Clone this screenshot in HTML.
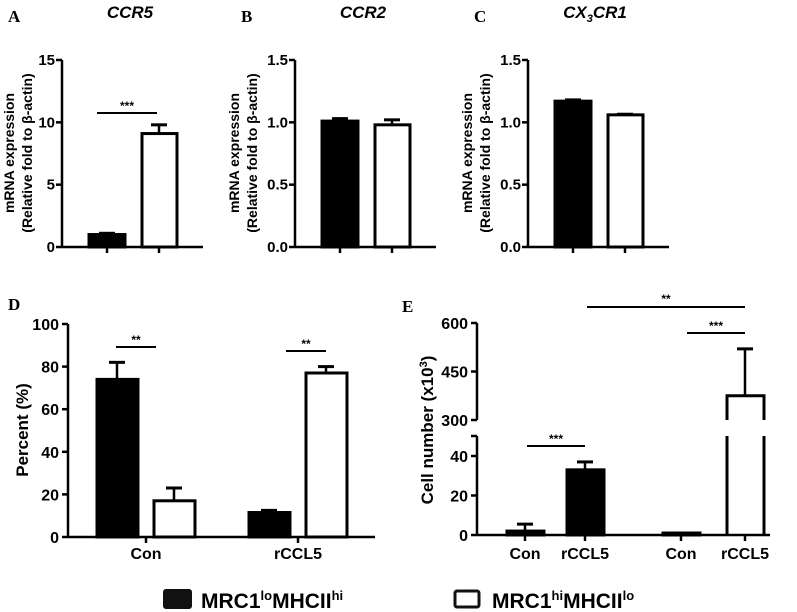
<!DOCTYPE html>
<html><head><meta charset="utf-8"><style>
body{margin:0;background:#fff}
svg{display:block;font-family:"Liberation Sans",Arial,sans-serif;font-weight:bold}
</style></head><body>
<svg id="c" width="797" height="612" viewBox="0 0 797 612" xmlns="http://www.w3.org/2000/svg"></svg>
<script>
const NS="http://www.w3.org/2000/svg";
const svg=document.getElementById('c');
// data
const abcTitles=["CCR5","CCR2","CX3CR1"];
const abcMax=[15,1.5,1.5];
const abcTicks=[["0","5","10","15"],["0.0","0.5","1.0","1.5"],["0.0","0.5","1.0","1.5"]];
const abcBlack=[1.0,1.01,1.17];
const abcBlackErr=[1.1,1.03,1.18];
const abcWhite=[9.1,0.98,1.06];
const abcWhiteErr=[9.8,1.02,1.065];
const dCategories=["Con","rCCL5"];
const dBlack=[74,11.5];
const dBlackErr=[82,12.5];
const dWhite=[17,77];
const dWhiteErr=[23,80];
const dTicks=[0,20,40,60,80,100];
const eCategories=["Con","rCCL5","Con","rCCL5"];
const eValues=[2,33,1,375];
const eErr=[5.5,37,1,520];
const eLowTicks=[0,20,40];
const eHighTicks=[300,450,600];

function el(tag,attrs,name,inter,parent){
  const e=document.createElementNS(NS,tag);
  for(const k in attrs)e.setAttribute(k,attrs[k]);
  
  
  (parent||svg).appendChild(e);return e;
}
function txt(x,y,s,size,name,anchor,extra){
  const t=el('text',Object.assign({x:x,y:y,'font-size':size,'text-anchor':anchor||'middle'},extra||{}),name,false);
  t.textContent=s;return t;
}
function line(x1,y1,x2,y2,name,w){return el('line',{x1,y1,x2,y2,stroke:'#000','stroke-width':w||2.5},name,false);}
function bar(x,w,y0,yv,black,name){
  return el('rect',{x:x,y:Math.min(yv,y0),width:w,height:Math.abs(y0-yv),fill:black?'#000':'#fff',stroke:'#000','stroke-width':3},name,false);
}
function errbar(cx,yv,ye,name){line(cx,yv,cx,ye,name,2.5);line(cx-8,ye,cx+8,ye,name+'-cap',3);}

// panels A-C
const axX=[62,295,528];
const titleOff=[[-48,-30],[-56,-38],[-56,-38]];
const y0=247,yTop=60;
abcTitles.forEach((t,i)=>{
  const ax=axX[i],sy=v=>y0-(v/abcMax[i])*(y0-yTop);
  const lbl=["A","B","C"][i];
  txt(ax-54,22,lbl,17,'panel-label-'+lbl.toLowerCase(),'start',{'font-family':'Liberation Serif,serif'});
  if(i==2){const tt=txt(ax+67,18,'',17,'panel-title-c','middle',{'font-style':'italic'});
    tt.innerHTML='CX<tspan font-size="11" dy="4">3</tspan><tspan dy="-4">CR1</tspan>';}
  else txt(ax+68,18,t,17,'panel-title-'+lbl.toLowerCase(),'middle',{'font-style':'italic'});
  abcTicks[i].forEach((s,k)=>{const v=abcMax[i]*k/3,y=sy(v);
    line(ax-6,y,ax,y,'y-tick');txt(ax-7,y+5,s,15,'y-tick-label','end');});
  line(ax,yTop,ax,y0+1,'y-axis');line(ax,y0,ax+141,y0,'x-axis');
  const bx=ax+27,wx=ax+80;
  bar(bx,36,y0,sy(abcBlack[i]),true,'bar-black');
  errbar(bx+18,sy(abcBlack[i]),sy(abcBlackErr[i]),'error-bar-black');
  bar(wx,35,y0,sy(abcWhite[i]),false,'bar-white');
  errbar(wx+17,sy(abcWhite[i]),sy(abcWhiteErr[i]),'error-bar-white');
  line(bx+18,y0,bx+18,y0+6,'x-tick');line(wx+17,y0,wx+17,y0+6,'x-tick');
  const cy=153,t1=ax+titleOff[i][0],t2=ax+titleOff[i][1];
  txt(t1,cy,'mRNA expression',14,'y-axis-title','middle',{transform:`rotate(-90 ${t1} ${cy})`});
  txt(t2,cy,'(Relative fold to β-actin)',14,'y-axis-title','middle',{transform:`rotate(-90 ${t2} ${cy})`});
});
line(97,113,157,113,'sig-line-a',2);txt(127,110,'***',12,'sig-stars-a');

// panel D
const dx=68,dy0=537,dTop=324,dsy=v=>dy0-v/100*(dy0-dTop);
txt(8,310,'D',17,'panel-label-d','start',{'font-family':'Liberation Serif,serif'});
dTicks.forEach(v=>{const y=dsy(v);line(dx-6,y,dx,y,'y-tick');txt(dx-9,y+6,String(v),16,'y-tick-label','end');});
line(dx,dTop,dx,dy0+1,'y-axis');line(dx,dy0,375,dy0,'x-axis');
const dGroupX=[97,249];
dCategories.forEach((c,i)=>{
  const gx=dGroupX[i];
  bar(gx,41,dy0,dsy(dBlack[i]),true,'bar-black-'+c);
  errbar(gx+20,dsy(dBlack[i]),dsy(dBlackErr[i]),'error-bar-black');
  bar(gx+57,41,dy0,dsy(dWhite[i]),false,'bar-white-'+c);
  errbar(gx+77,dsy(dWhite[i]),dsy(dWhiteErr[i]),'error-bar-white');
  line(gx+49,dy0,gx+49,dy0+6,'x-tick');
  txt(gx+49,559,c,16,'x-tick-label');
});
line(116,347,156,347,'sig-line-d1',2);txt(136,344,'**',12,'sig-stars-d1');
line(286,351,326,351,'sig-line-d2',2);txt(306,348,'**',12,'sig-stars-d2');
txt(28,430,'Percent (%)',17,'y-axis-title','middle',{transform:'rotate(-90 28 430)'});

// panel E
const ex=477,ey0=535,eBreakLo=436,eBreakHi=420;
const esy=v=> v<=50? ey0-v*(ey0-456)/40 : 420-(v-300)*(420-323)/300;
txt(402,312,'E',17,'panel-label-e','start',{'font-family':'Liberation Serif,serif'});
eLowTicks.forEach(v=>{const y=esy(v);line(ex-6,y,ex,y,'y-tick');txt(ex-9,y+6,String(v),16,'y-tick-label','end');});
eHighTicks.forEach(v=>{const y=esy(v);line(ex-6,y,ex,y,'y-tick');txt(ex-9,y+6,String(v),16,'y-tick-label','end');});
line(ex-6,eBreakLo,ex,eBreakLo,'axis-break-cap');
line(ex,323,ex,eBreakHi,'y-axis-upper');line(ex,eBreakLo,ex,ey0+1,'y-axis-lower');
line(ex,ey0,770,ey0,'x-axis');
const eBarX=[507,567,663,727];
eCategories.forEach((c,i)=>{
  const bx=eBarX[i],black=i<2,v=eValues[i];
  if(v<=50){bar(bx,37,ey0,esy(v),black,'bar-'+c);}
  else{
    const top=esy(v);
    el('path',{d:`M${bx},${eBreakHi} L${bx},${top} L${bx+37},${top} L${bx+37},${eBreakHi}`,fill:'#fff',stroke:'#000','stroke-width':3},'bar-'+c+'-upper',false);
    el('path',{d:`M${bx},${eBreakLo} L${bx},${ey0} M${bx+37},${eBreakLo} L${bx+37},${ey0}`,fill:'none',stroke:'#000','stroke-width':3},'bar-'+c+'-lower',false);
  }
  errbar(bx+18,esy(v),esy(eErr[i]),'error-bar-'+c);
  line(bx+18,ey0,bx+18,ey0+6,'x-tick');
  txt(bx+18,559,c,16,'x-tick-label');
});
line(527,446,585,446,'sig-line-e1',2);txt(556,443,'***',12,'sig-stars-e1');
line(687,333,745,333,'sig-line-e2',2);txt(716,330,'***',12,'sig-stars-e2');
line(587,307,745,307,'sig-line-e3',2);txt(666,303,'**',12,'sig-stars-e3');
const et=txt(433,430,'',17,'y-axis-title','middle',{transform:'rotate(-90 433 430)'});
et.innerHTML='Cell number (x10<tspan font-size="11" dy="-6">3</tspan><tspan dy="6">)</tspan>';

// legend
el('rect',{x:164,y:590,width:27,height:18,fill:'#111',stroke:'#111','stroke-width':2,rx:2},'legend-swatch-black',false);
const l1=txt(201,608,'',21,'legend-label-black','start');
l1.innerHTML='MRC1<tspan font-size="13" dy="-8">lo</tspan><tspan dy="8">MHCII</tspan><tspan font-size="13" dy="-8">hi</tspan>';
el('rect',{x:455,y:591,width:24,height:16,fill:'#fff',stroke:'#111','stroke-width':3,rx:2},'legend-swatch-white',false);
const l2=txt(492,608,'',21,'legend-label-white','start');
l2.innerHTML='MRC1<tspan font-size="13" dy="-8">hi</tspan><tspan dy="8">MHCII</tspan><tspan font-size="13" dy="-8">lo</tspan>';
</script>
</body></html>
